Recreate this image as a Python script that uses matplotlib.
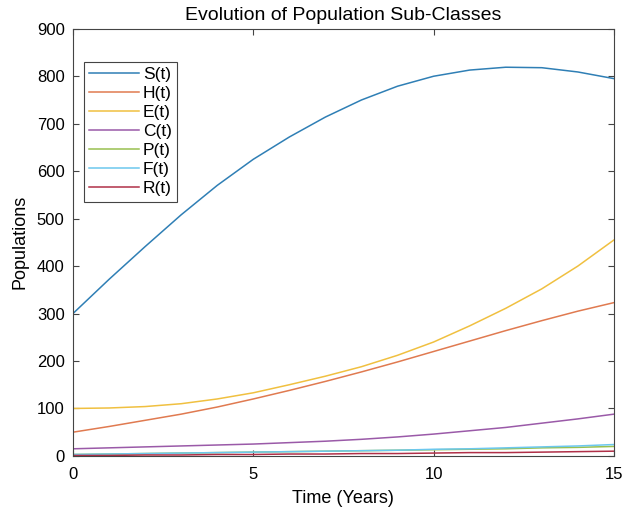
import numpy as np
import matplotlib.pyplot as plt

plt.rcParams['font.family'] = ['Liberation Sans', 'DejaVu Sans']

t = np.arange(0, 16)
S = [300, 372, 441, 508, 570, 625, 672, 714, 750, 779, 800, 813, 819, 818, 809, 795]
H = [50, 62, 75, 88, 103, 120, 138, 157, 177, 198, 220, 242, 264, 285, 305, 323]
E = [100, 101, 104, 110, 120, 133, 150, 168, 188, 212, 240, 274, 311, 352, 400, 455]
C = [15, 17, 19, 21, 23, 25, 28, 31, 35, 40, 46, 53, 60, 69, 78, 88]
P = [3, 4, 5, 6, 7, 8, 9, 10, 11, 12, 13, 14, 15, 17, 18, 20]
F = [3, 4, 5, 6, 7, 8, 9, 10, 11, 12, 14, 15, 17, 19, 21, 24]
R = [1, 1, 2, 2, 3, 3, 4, 4, 5, 5, 6, 7, 7, 8, 9, 10]

names = ['S(t)', 'H(t)', 'E(t)', 'C(t)', 'P(t)', 'F(t)', 'R(t)']
colors = ['#2f7fb5', '#e07a50', '#f0c040', '#9a5aa8', '#98c050', '#6cc8ee', '#b03048']

fig = plt.figure(figsize=(6.29, 5.14), dpi=100)
ax = fig.add_axes([0.116, 0.113, 0.86, 0.831])

for y, n, c in zip([S, H, E, C, P, F, R], names, colors):
    ax.plot(t, y, color=c, lw=1.1, label=n)

ax.set_xlim(0, 15)
ax.set_ylim(0, 900)
ax.set_xticks([0, 5, 10, 15])
ax.set_yticks(np.arange(0, 901, 100))
ax.tick_params(direction='in', top=True, right=True, labelsize=12, length=4, color='#444444')
ax.tick_params(axis='x', pad=8)
ax.tick_params(axis='y', pad=6)
for s in ax.spines.values():
    s.set_color('#444444')
    s.set_linewidth(0.8)

ax.set_title('Evolution of Population Sub-Classes', fontsize=14, pad=6)
ax.set_xlabel('Time (Years)', fontsize=13, labelpad=6)
ax.set_ylabel('Populations', fontsize=13, labelpad=6)

leg = ax.legend(loc='upper left', bbox_to_anchor=(0.02, 0.922), fontsize=12.5,
                fancybox=False, edgecolor='#444444', handlelength=2.9,
                handletextpad=0.2, labelspacing=0.22, borderpad=0.3,
                borderaxespad=0, framealpha=1)
leg.get_frame().set_linewidth(0.8)

fig.savefig('out.png', dpi=100)
